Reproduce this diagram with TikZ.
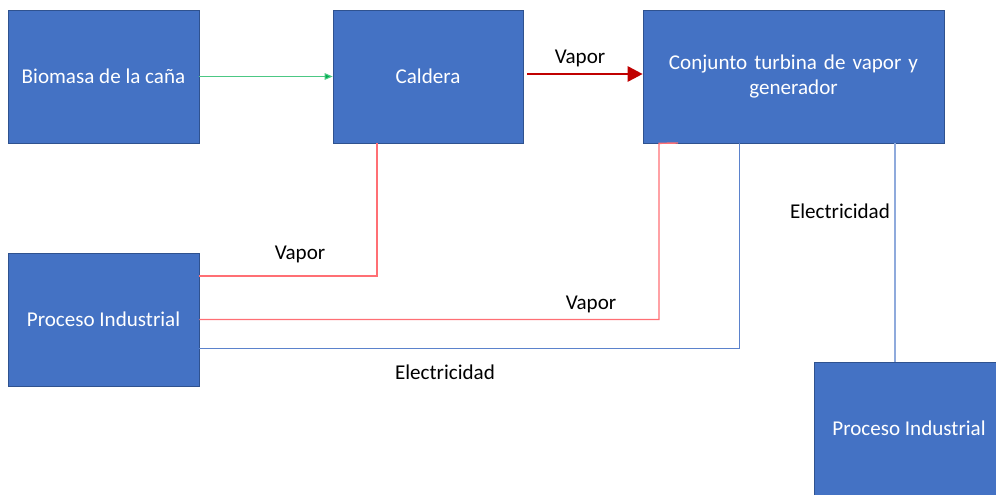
\documentclass[tikz,border=0pt]{standalone}
\usepackage{fontspec}
\setmainfont{Carlito}
\usepackage{tikz}
\usetikzlibrary{arrows.meta,positioning}
\definecolor{boxblue}{HTML}{4472C4}
\definecolor{boxline}{HTML}{2F528F}
\definecolor{vapred}{HTML}{FF6F74}
\definecolor{darkred}{HTML}{C00000}
\definecolor{elecblue}{HTML}{5B82CC}
\definecolor{elecpale}{HTML}{8FAADC}
\definecolor{feedgreen}{HTML}{00B050}

\begin{document}
\begin{tikzpicture}[x=0.02cm, y=-0.02cm,
  blk/.style={draw=boxline, fill=boxblue, text=white, minimum width=3.8cm, minimum height=2.66cm,
    font=\fontsize{12}{14}\selectfont, align=center, inner sep=0pt},
  lab/.style={font=\fontsize{12}{14}\selectfont, text=black, inner sep=0pt},
  vap/.style={draw=vapred, line width=0.8pt},
  elec/.style={draw=elecblue, line width=0.5pt},
  elecb/.style={draw=elecpale, line width=0.8pt},
  feed/.style={draw=feedgreen!70, line width=0.6pt, -{Triangle[length=1.6mm, width=1.3mm, fill=feedgreen]}},
  steam/.style={draw=darkred, line width=1.6pt, -{Triangle[length=3mm, width=3mm]}}]
  \useasboundingbox (0,0) rectangle (996,494);
  % boxes
  \node[blk, minimum width=3.82cm] (bio) at (103.5,76.5) {Biomasa de la caña};
  \node[blk] (cald) at (428,76.5) {Caldera};
  \node[blk, minimum width=6.02cm, text width=5.4cm] (turb) at (793.5,76.5) {Conjunto turbina de vapor y\\generador};
  \node[blk, minimum width=3.82cm] (procL) at (103.5,319.5) {Proceso Industrial};
  \node[blk] (procR) at (909,428.5) {Proceso Industrial};
  % bend points
  \coordinate (v1) at (377,276);
  \coordinate (v2) at (659,319.5);
  \coordinate (e1) at (739,348);
  \coordinate (e2) at (895,0);
  \coordinate (s0) at (527,74);
  \coordinate (t0) at (678,143);
  % flows
  \draw[feed] (bio.east) -- (cald.west);
  \draw[steam] (s0) -- (turb.west |- s0);
  \draw[vap] (cald.south -| v1) |- (procL.east |- v1);
  \draw[vap] (t0) -- (turb.south -| v2) |- (procL.east |- v2);
  \draw[elec] (turb.south -| e1) |- (procL.east |- e1);
  \draw[elecb] (turb.south -| e2) -- (procR.north -| e2);
  % labels
  \node[lab] (l1) at (580,58) {Vapor};
  \node[lab] (l2) at (300,254) {Vapor};
  \node[lab] (l3) at (591,304) {Vapor};
  \node[lab] (l4) at (445,372) {Electricidad};
  \node[lab] (l5) at (840,211) {Electricidad};
\end{tikzpicture}
\end{document}
